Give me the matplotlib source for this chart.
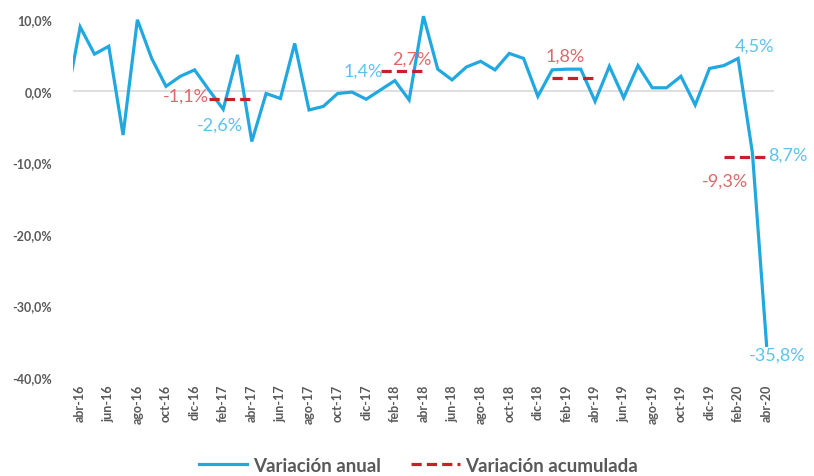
import matplotlib
matplotlib.use("Agg")
import matplotlib.pyplot as plt
from matplotlib.lines import Line2D

OUTPUT_PATH = "out.png"

# Months (Spanish). First one (mar-16) sits just outside the left edge of the plot.
MESES = ["ene", "feb", "mar", "abr", "may", "jun", "jul", "ago", "sep", "oct", "nov", "dic"]
meses = []
for year in range(16, 21):
    for m in MESES:
        meses.append(f"{m}-{year}")
meses = meses[meses.index("mar-16"):meses.index("abr-20") + 1]

variacion_anual = [
    -1.7, 8.9, 5.1, 6.2, -6.2, 9.9, 4.5, 0.6, 2.0, 2.9,
    0.1, -2.6, 5.0, -7.1, -0.4, -1.1, 6.6, -2.7, -2.2, -0.4,
    -0.2, -1.2, 0.1, 1.4, -1.3, 10.4, 3.0, 1.5, 3.3, 4.1,
    2.9, 5.2, 4.5, -0.8, 2.9, 3.0, 3.0, -1.5, 3.4, -1.0,
    3.5, 0.4, 0.4, 2.0, -2.0, 3.1, 3.5, 4.5, -8.7, -35.8,
]

# Accumulated (ene-abr) variation of each year
acum_inicio = ["ene-17", "ene-18", "ene-19", "ene-20"]
acum_fin = ["abr-17", "abr-18", "abr-19", "abr-20"]
acum_valor = [-1.1, 2.7, 1.8, -9.3]

# x tick labels, every two months
tick_labels = meses[1::2]

# point labels on the annual line: (month, text, offset in pixels, ha)
etiquetas_anual = [
    ("feb-17", "-2,6%", (-3, -15), "center"),
    ("feb-18", "1,4%", (-12, 10), "right"),
    ("feb-20", "4,5%", (-3, 13), "left"),
    ("mar-20", "8,7%", (16, -2), "left"),
    ("abr-20", "-35,8%", (10, -8), "center"),
]
# labels on the accumulated segments: offset from segment centre, in pixels
etiquetas_acum = [
    ("-1,1%", (0, 3), "right"),
    ("2,7%", (10, 13), "center"),
    ("1,8%", (-8, 22), "center"),
    ("-9,3%", (-20, -23), "center"),
]

AZUL = "#21A8E0"
AZUL_TXT = "#5DC3EC"
ROJO = "#C8202A"
ROJO_TXT = "#E0686A"
GRIS = "#595959"

plt.rcParams["font.family"] = ["Lato", "DejaVu Sans"]

fig = plt.figure(figsize=(8.14, 4.77), dpi=100)
ax = fig.add_axes([0.0897, 0.2075, 0.861, 0.7805])

x = list(range(len(meses)))
ax.axhline(0, color="#d9d9d9", linewidth=1.2, zorder=1)
ax.plot(x, variacion_anual, color=AZUL, linewidth=2.3, zorder=3,
        solid_joinstyle="miter", solid_capstyle="butt")

for ini, fin, val in zip(acum_inicio, acum_fin, acum_valor):
    ax.plot([meses.index(ini), meses.index(fin)], [val, val], color=ROJO,
            linewidth=2.3, dashes=(3.2, 1.6), zorder=4, solid_capstyle="butt")

for mes, txt, off, ha in etiquetas_anual:
    i = meses.index(mes)
    ax.annotate(txt, (i, variacion_anual[i]), xytext=off, textcoords="offset pixels",
                ha=ha, va="center", color=AZUL_TXT, fontsize=13, zorder=5,
                annotation_clip=False)

for (txt, off, ha), ini, fin, val in zip(etiquetas_acum, acum_inicio, acum_fin, acum_valor):
    xc = (meses.index(ini) + meses.index(fin)) / 2
    if ha == "right":
        xc = meses.index(ini)
    ax.annotate(txt, (xc, val), xytext=off, textcoords="offset pixels",
                ha=ha, va="center", color=ROJO_TXT, fontsize=13, zorder=5,
                annotation_clip=False)

ax.set_xlim(0.5, 49.5)
ax.set_ylim(-40, 12)
ax.set_yticks([10, 0, -10, -20, -30, -40])
ax.set_yticklabels(["10,0%", "0,0%", "-10,0%", "-20,0%", "-30,0%", "-40,0%"])
ax.set_xticks([meses.index(t) for t in tick_labels])
ax.set_xticklabels(tick_labels, rotation=90)

ax.tick_params(axis="y", length=0, pad=15, labelsize=9, labelcolor=GRIS)
ax.tick_params(axis="x", length=0, pad=5, labelsize=9, labelcolor=GRIS)
for lbl in ax.get_xticklabels() + ax.get_yticklabels():
    lbl.set_fontweight("bold")
for spine in ax.spines.values():
    spine.set_visible(False)

handles = [
    Line2D([], [], color=AZUL, linewidth=2.3),
    Line2D([], [], color=ROJO, linewidth=2.3, dashes=(3.2, 1.6)),
]
fig.legend(handles, ["Variación anual", "Variación acumulada"], loc="center",
           bbox_to_anchor=(0.514, 0.023), ncol=2, frameon=False,
           prop={"weight": "bold", "size": 13.5}, labelcolor=GRIS,
           handlelength=2.6, handletextpad=0.3, columnspacing=1.6)

fig.savefig(OUTPUT_PATH, dpi=100, facecolor="white")
plt.close(fig)
